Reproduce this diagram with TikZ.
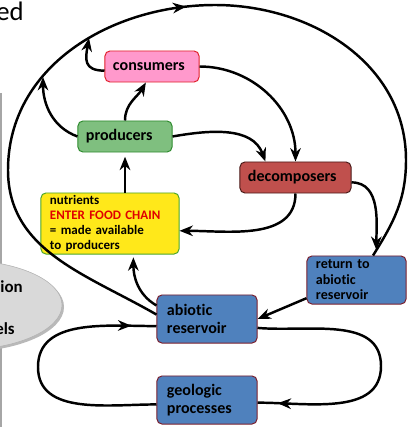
\documentclass[tikz,border=0pt]{standalone}
\usepackage{fontspec}
\setmainfont{Carlito}[Ligatures=NoCommon]
\usepackage{xcolor}
\usepackage{tikz}
\usetikzlibrary{shapes.geometric, arrows.meta, decorations.markings}

\definecolor{consfill}{HTML}{FF99CC}
\definecolor{consdraw}{HTML}{E0202A}
\definecolor{prodfill}{HTML}{7FBF7F}
\definecolor{proddraw}{HTML}{2E8B2E}
\definecolor{decfill}{HTML}{C0504D}
\definecolor{decdraw}{HTML}{4A1A18}
\definecolor{nutfill}{HTML}{FFE81A}
\definecolor{nutdraw}{HTML}{4CA62C}
\definecolor{resfill}{HTML}{4F81BD}
\definecolor{resdraw}{HTML}{7A1F2E}
\definecolor{textred}{HTML}{E00000}

\tikzstyle{block} = [rectangle, rounded corners=3.5pt, line width=0.7pt, inner xsep=0.2cm, inner ysep=0pt, minimum height=0.775cm, align=left, font=\bfseries\fontsize{11.4}{12.8}\selectfont]
\tikzstyle{reservoir} = [block, fill=resfill, draw=resdraw, inner xsep=0.25cm, text width=2cm, minimum height=1.2cm]
\tikzstyle{arrow} = [line width=1.75pt, -{Stealth[length=9.5pt, width=7.5pt, inset=3pt]}]
\tikzstyle{cycleline} = [line width=1.75pt, postaction={decorate}]
\tikzset{midtip/.style={decoration={markings, mark=at position #1 with {\arrow{Stealth[length=9.5pt, width=7.5pt, inset=3pt]}}}}}

\begin{document}
\begin{tikzpicture}[x=0.025cm, y=0.025cm]
\useasboundingbox (0,0) rectangle (408,-427);
\clip (0,0) rectangle (408,-427);
% rest of the slide
\node[anchor=base west, inner sep=0, font=\fontsize{19}{20}\selectfont] (title) at (-4,-21) {ed};
\draw[gray!70, line width=1pt] (1,-93) -- (1,-427);
\node[ellipse, fill=gray!55, minimum width=5.1cm, minimum height=2.25cm] (ovalshadow) at (-38,-307) {};
\node[ellipse, fill=gray!30, draw=gray!60, minimum width=5.1cm, minimum height=2.25cm] (oval) at (-40,-305) {};
\node[anchor=base east, inner sep=0, font=\bfseries\fontsize{12}{14}\selectfont] (ovaltop) at (23,-292) {ion};
\node[anchor=base east, inner sep=0, font=\bfseries\fontsize{12}{14}\selectfont] (ovalbot) at (15,-334) {els};

% food chain
\node[block, fill=consfill, draw=consdraw, text width=1.95cm] (cons) at (152,-66.5) {consumers};
\node[block, fill=prodfill, draw=proddraw, text width=1.95cm] (prod) at (125,-136.5) {producers};
\node[block, fill=decfill, draw=decdraw, text width=2.375cm] (dec) at (295.5,-177.5) {decomposers};
\node[block, fill=nutfill, draw=nutdraw, inner xsep=0.225cm, text width=3cm, minimum height=1.525cm, font=\bfseries\fontsize{9.25}{10.7}\selectfont] (nut) at (110,-223.5) {nutrients\\\textcolor{textred}{ENTER FOOD CHAIN}\\= made available\\to producers};
% reservoirs
\node[reservoir, inner xsep=0.225cm, text width=2.025cm, font=\bfseries\fontsize{10}{11}\selectfont] (ret) at (356.5,-280) {return to\\abiotic\\reservoir};
\node[reservoir] (abio) at (207,-319) {abiotic\\reservoir};
\node[reservoir] (geo) at (207,-400) {geologic\\processes};

% points on the big cycle
\coordinate (c1) at (89,-38);
\coordinate (c2) at (43,-77);
\coordinate (west) at (8,-170);
\coordinate (top) at (215,-5);
\coordinate (east) at (406,-160);
\coordinate (rockeast) at (381,-366);
\coordinate (rockwest) at (38,-367);

% arrows
\draw[arrow, shorten >=3pt] (prod.south |- nut.north) -- (prod.south);
\draw[arrow] (prod.north) to[out=90, in=240] (cons.-111);
\draw[arrow] (cons.185) to[out=180, in=-100, looseness=1.5] (c1);
\draw[arrow] (prod.west) to[out=160, in=-90] (c2);
\draw[arrow] (cons.east) to[out=0, in=90] (dec.north);
\draw[arrow] (prod.east) to[out=10, in=110] (dec.152);
\draw[arrow] (dec.south) to[out=-90, in=0] (nut.-6);
\draw[arrow, shorten >=4pt] (dec.-5) to[out=0, in=90] (ret.51);
\draw[arrow] (ret.200) -- (abio.east);
\draw[arrow, shorten >=2pt] (abio.165) to[out=150, in=-90] (nut.-53);
% big cycle
\draw[cycleline, midtip=0.545] (abio.175) to[out=150, in=-90] (west) to[out=90, in=180] (top) to[out=0, in=90] (east) to[out=-90, in=58] (ret.56);
% rock cycle
\draw[cycleline, midtip=0.93] (abio.-10) to[out=-5, in=90] (rockeast) to[out=-90, in=0] (geo.-3);
\draw[cycleline, midtip=0.91] (geo.185) to[out=180, in=-90] (rockwest) to[out=90, in=180] (abio.188);
\end{tikzpicture}
\end{document}
